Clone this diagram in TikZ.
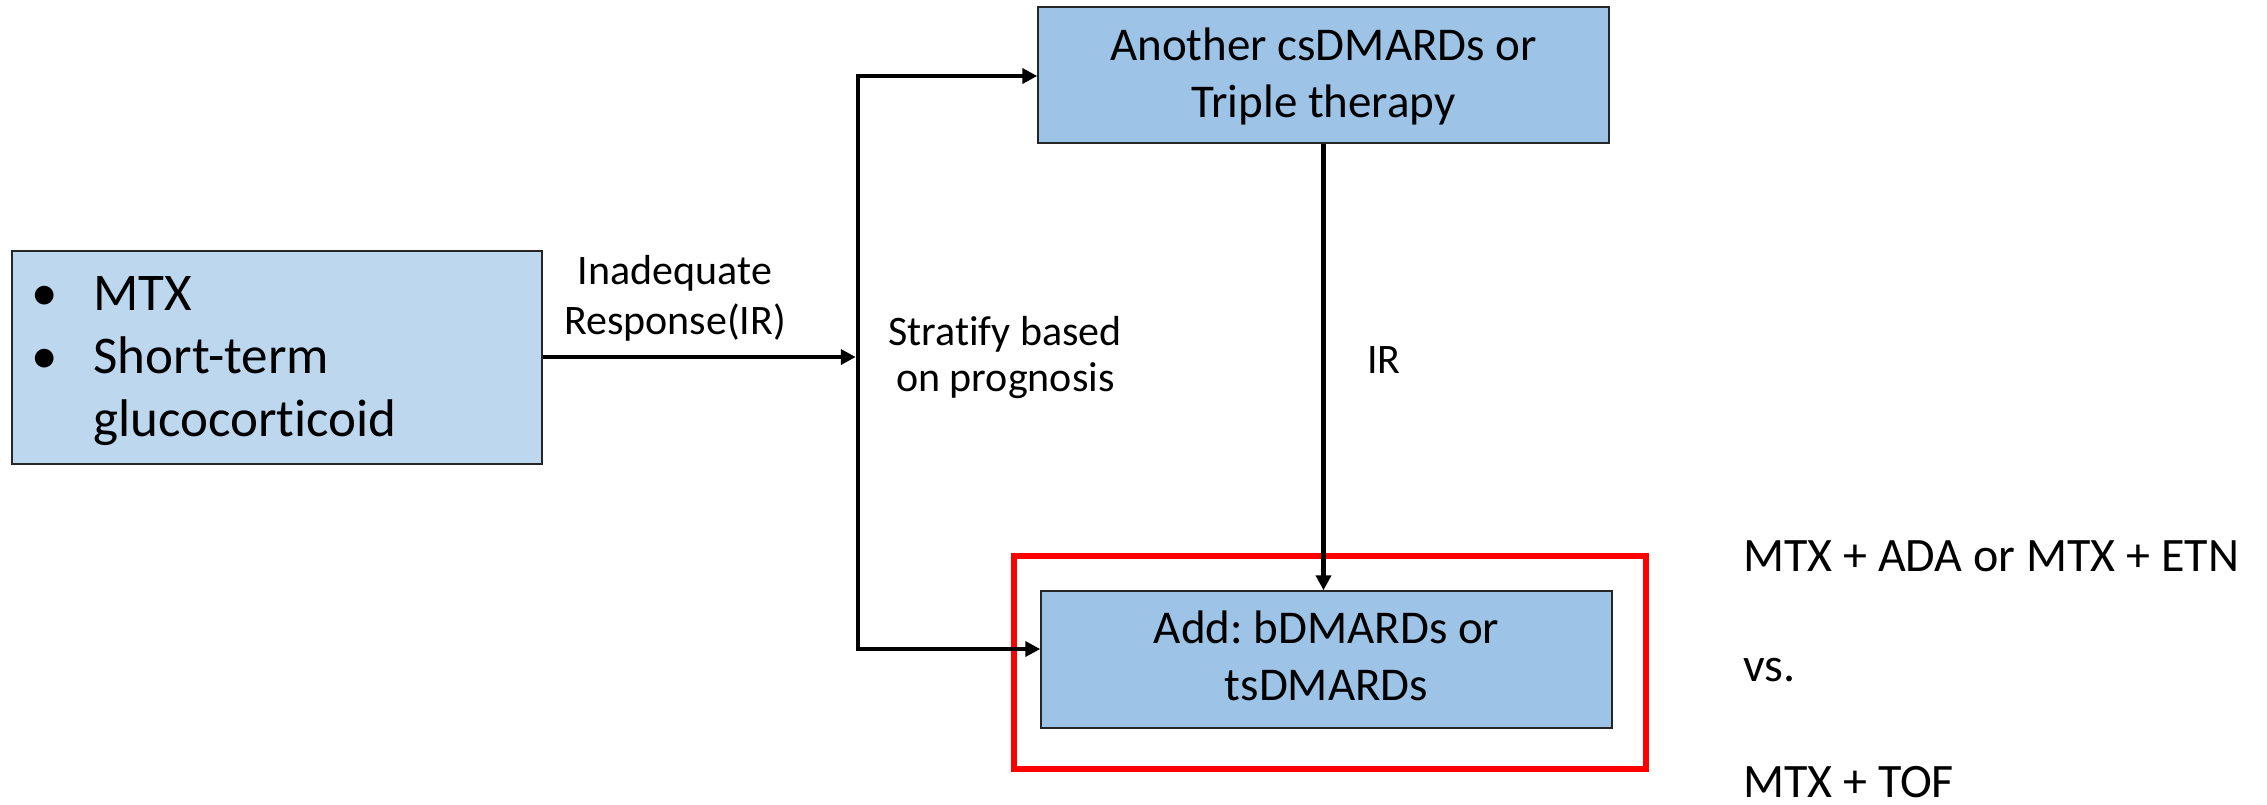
\documentclass[tikz,border=0pt]{standalone}
\usepackage{fontspec}
\setmainfont{Carlito}[Ligatures=NoCommon]
\usetikzlibrary{arrows.meta}
\definecolor{lightblue}{HTML}{BDD7EE}
\definecolor{midblue}{HTML}{9DC3E6}
\frenchspacing
\newcommand{\lowerby}[2]{\raisebox{-#1}[\height][\depth]{#2}}
\begin{document}
\begin{tikzpicture}[x=1pt,y=-1pt,
  box/.style={draw=black!85, line width=1.5pt, inner ysep=0pt, inner xsep=0pt, align=center},
  conn/.style={line width=4.5pt, -{Triangle[length=15pt,width=15pt]}},
  lbl/.style={inner sep=0pt, anchor=base, font=\fontsize{42}{50}\selectfont},
  side/.style={inner sep=0pt, anchor=base west, font=\fontsize{48}{57}\selectfont}]
\useasboundingbox (0,0) rectangle (2267,804);
\fill[white] (0,0) rectangle (2267,804);

% boxes
\node[box, fill=lightblue, minimum width=530, minimum height=213,
      text width=509, inner xsep=0pt, align=left,
      font=\fontsize{53}{63}\selectfont] (lb) at (277,357.5)
  {\hspace*{9pt}\lowerby{3pt}{\begin{tabular}{@{}l@{}}\makebox[62pt][l]{•}MTX\\
   \makebox[62pt][l]{•}Short-term\\
   \hspace*{62pt}glucocorticoid\end{tabular}}};

\node[box, fill=midblue, minimum width=571, minimum height=136,
      font=\fontsize{47}{57}\selectfont] (tb) at (1323.5,75)
  {\lowerby{3pt}{\begin{tabular}{@{}c@{}}Another csDMARDs or\\Triple therapy\end{tabular}}};

\node[draw=red, line width=6pt, minimum width=632, minimum height=213,
      inner sep=0pt] (hl) at (1330,662.5) {};

\node[box, fill=midblue, minimum width=571, minimum height=137,
      font=\fontsize{47}{57}\selectfont] (bb) at (1326.5,659.5)
  {\lowerby{1.5pt}{\begin{tabular}{@{}c@{}}Add: bDMARDs or\\tsDMARDs\end{tabular}}};

% junction points
\coordinate (jt) at (858,76);
\coordinate (jm) at (858,357);
\coordinate (jb) at (858,649);

% connectors
\draw[conn, shorten >=2.25pt] (lb.east |- jm) -- (jm);
\draw[line width=4.5pt, {Triangle[length=15pt,width=15pt]}-{Triangle[length=15pt,width=15pt]}]
  (tb.west |- jt) -| (jb) -- (bb.west |- jb);
\draw[conn] (tb.south) -- (tb.south |- bb.north);

% labels
\node[lbl] (ia) at (675,284)
  {\begin{tabular}[t]{@{}c@{}}Inadequate\\Response(IR)\end{tabular}};
\node[lbl, anchor=base west, font=\fontsize{42}{46}\selectfont] (st) at (888,345)
  {\begin{tabular}[t]{@{}l@{}}Stratify based\\\hspace*{8pt}on prognosis\end{tabular}};
\node[lbl, anchor=base west] (ir) at (1367,373) {IR};

\node[side] (c1) at (1743,571) {MTX + ADA or MTX + ETN};
\node[side] (c2) at (1743,681) {vs.};
\node[side] (c3) at (1743,797) {MTX + TOF};
\end{tikzpicture}
\end{document}
